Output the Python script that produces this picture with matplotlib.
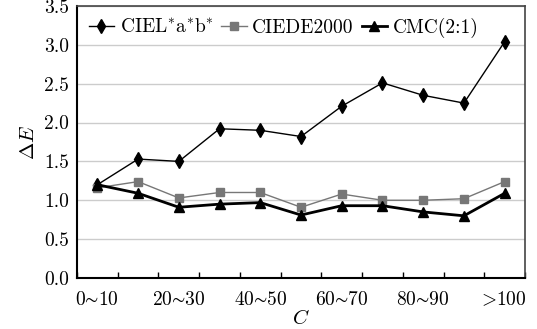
import numpy as np
import matplotlib.pyplot as plt

categories = ["0~10", "10~20", "20~30", "30~40", "40~50", "50~60",
              "60~70", "70~80", "80~90", "90~100", ">100"]
cielab = [1.20, 1.53, 1.50, 1.92, 1.90, 1.82, 2.21, 2.51, 2.35, 2.25, 3.04]
ciede2000 = [1.16, 1.24, 1.03, 1.10, 1.10, 0.91, 1.08, 1.00, 1.00, 1.02, 1.24]
cmc = [1.20, 1.09, 0.91, 0.95, 0.97, 0.81, 0.93, 0.93, 0.85, 0.80, 1.09]
shown_labels = ["0~10", "20~30", "40~50", "60~70", "80~90", ">100"]

plt.rcParams['font.family'] = 'serif'
plt.rcParams['font.serif'] = ['cmr10', 'DejaVu Serif']
plt.rcParams['mathtext.fontset'] = 'cm'
plt.rcParams['axes.formatter.use_mathtext'] = True


def as_tex(lbl):
    # cmr10 maps ~ and > to other glyphs, so draw them through mathtext
    if lbl.startswith('>'):
        return '$\\!\\!>\\!\\mathrm{' + lbl[1:] + '}$'
    a, b = lbl.split('~')
    return '$\\mathrm{' + a + '}\u223c\\mathrm{' + b + '}$'


fig = plt.figure(figsize=(5.37, 3.29), dpi=100)
ax = fig.add_axes([0.1434, 0.155, 0.8343, 0.827])

x = np.arange(len(categories))
ax.plot(x, cielab, color='black', lw=1.0, marker='d', ms=7, label=r'$\mathrm{CIEL^{*}a^{*}b^{*}}$')
ax.plot(x, ciede2000, color='#777777', lw=1.0, marker='s', ms=6, label='CIEDE2000')
ax.plot(x, cmc, color='black', lw=2.0, marker='^', ms=7, label='CMC(2:1)')

ax.set_xlim(-0.5, len(categories) - 0.5)
ax.set_ylim(0, 3.5)
ax.set_yticks(np.arange(0, 3.51, 0.5))
ax.set_yticklabels([f"{v:.1f}" for v in np.arange(0, 3.51, 0.5)])
ax.yaxis.grid(True, color='#cccccc', lw=1.0)
ax.set_axisbelow(True)

# boundaries as ticks, labels on every other category
ax.set_xticks(np.arange(-0.5, len(categories) - 0.4, 1))
ax.set_xticklabels([])
ax.set_xticks([x[categories.index(c)] for c in shown_labels], minor=True)
ax.set_xticklabels([as_tex(c) for c in shown_labels], minor=True)
ax.tick_params(axis='x', which='major', direction='in', length=4, width=1)
ax.tick_params(axis='x', which='minor', length=0, labelsize=14, pad=9)
ax.tick_params(axis='y', length=0, labelsize=14, pad=6)

for s in ['left', 'bottom']:
    ax.spines[s].set_linewidth(1.5)
for s in ['top', 'right']:
    ax.spines[s].set_color('#444444')
    ax.spines[s].set_linewidth(1.2)

ax.set_xlabel(r'$C$', fontsize=15, labelpad=0)
ax.set_ylabel(r'$\Delta E$', fontsize=15, labelpad=4)

ax.legend(loc='upper left', ncol=3, frameon=False, fontsize=14,
          handlelength=1.3, handletextpad=0.3, columnspacing=0.4,
          borderaxespad=0.2, bbox_to_anchor=(0.0, 1.0))

fig.savefig('out.png', dpi=100)
